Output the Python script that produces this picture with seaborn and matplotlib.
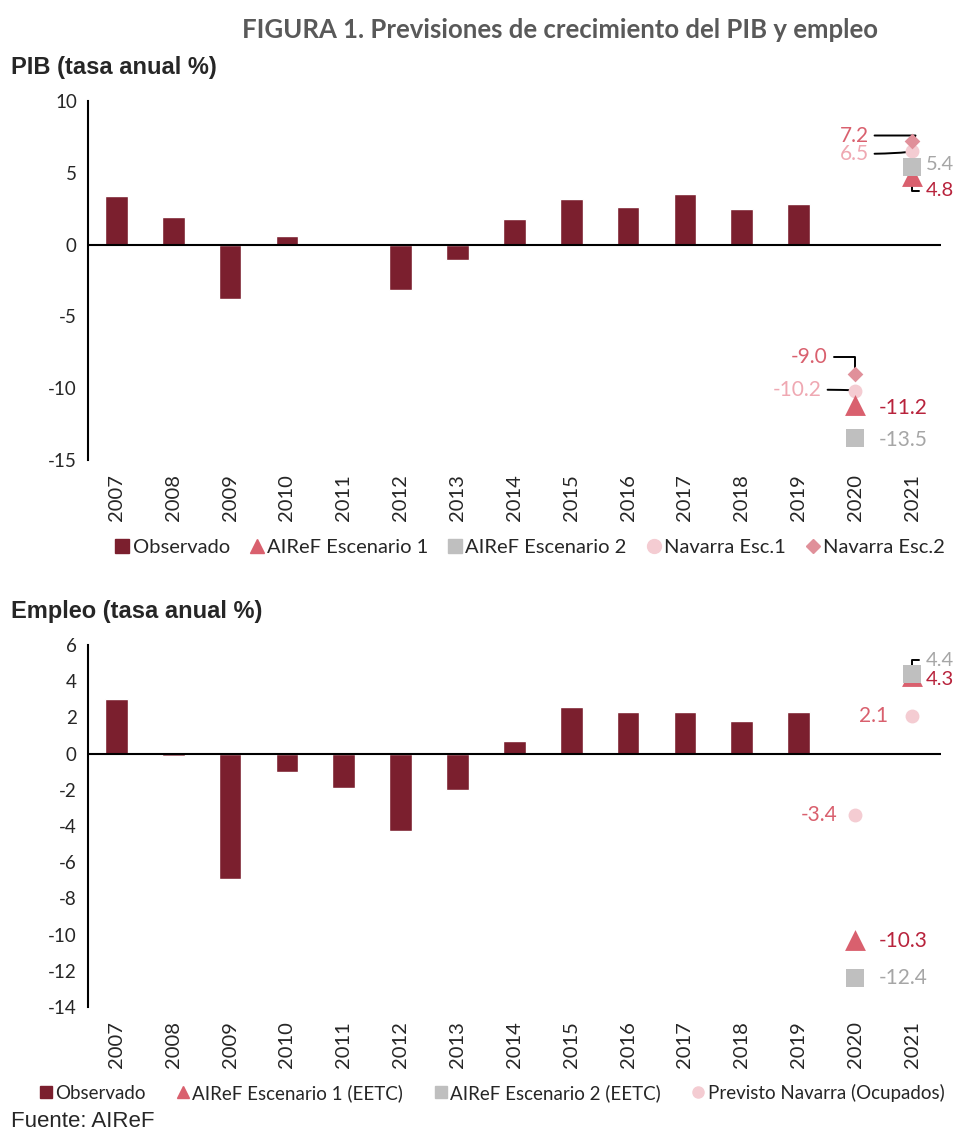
import numpy as np
import pandas as pd
import matplotlib
matplotlib.use("Agg")
import matplotlib.pyplot as plt
from matplotlib.lines import Line2D
import seaborn as sns

# ---------------- data ----------------
years = [str(y) for y in range(2007, 2022)]
obs_years = [str(y) for y in range(2007, 2020)]

pib_obs = [3.4, 1.9, -3.8, 0.6, 0.1, -3.2, -1.1, 1.8, 3.2, 2.6, 3.5, 2.5, 2.8]
emp_obs = [3.0, -0.15, -6.9, -1.0, -1.9, -4.3, -2.0, 0.7, 2.6, 2.3, 2.3, 1.8, 2.3]

fc_years = ["2020", "2021"]
pib_airef1 = [-11.2, 4.8]
pib_airef2 = [-13.5, 5.4]
pib_nav1 = [-10.2, 6.5]
pib_nav2 = [-9.0, 7.2]

emp_airef1 = [-10.3, 4.3]
emp_airef2 = [-12.4, 4.4]
emp_nav = [-3.4, 2.1]

pib_legend = ["Observado", "AIReF Escenario 1", "AIReF Escenario 2", "Navarra Esc.1", "Navarra Esc.2"]
emp_legend = ["Observado", "AIReF Escenario 1 (EETC)", "AIReF Escenario 2 (EETC)", "Previsto Navarra (Ocupados)"]

# ---------------- style ----------------
sns.set_theme(style="white")
plt.rcParams["font.family"] = ["Lato", "DejaVu Sans"]

C_OBS = "#7B1F2E"
C_A1 = "#D9606E"
C_A1_TXT = "#B8233C"
C_A2 = "#BFBFBF"
C_A2_TXT = "#A6A6A6"
C_N1 = "#F4CCD2"
C_N1_TXT = "#EFA8B2"
C_N2 = "#E0909A"
C_N2_TXT = "#D9606E"

fig = plt.figure(figsize=(9.56, 11.33), dpi=100)
ax1 = fig.add_axes([0.092, 0.594, 0.892, 0.317])
ax2 = fig.add_axes([0.092, 0.1112, 0.892, 0.3195])


def base(ax, vals, ylim, yticks):
    df = pd.DataFrame({"year": obs_years, "val": vals})
    sns.barplot(data=df, x="year", y="val", order=years, color=C_OBS,
                width=0.4, saturation=1, ax=ax, zorder=2)
    ax.axhline(0, color="black", lw=1.5, zorder=3)
    ax.set_xlim(-0.5, 14.5)
    ax.set_ylim(*ylim)
    ax.set_yticks(yticks)
    ax.set_yticklabels([str(t) for t in yticks], fontsize=13.5)
    ax.tick_params(axis="both", length=0, pad=8)
    ax.tick_params(axis="x", pad=10)
    for lab in ax.get_xticklabels():
        lab.set_rotation(90)
        lab.set_fontsize(14.5)
    for s in ["top", "right", "bottom"]:
        ax.spines[s].set_visible(False)
    ax.spines["left"].set_color("black")
    ax.spines["left"].set_linewidth(1.5)


def pts(ax, vals, marker, color, size, z):
    df = pd.DataFrame({"year": fc_years, "val": vals})
    sns.stripplot(data=df, x="year", y="val", order=years, jitter=False,
                  marker=marker, color=color, size=size, linewidth=0,
                  ax=ax, zorder=z)


def lab(ax, year, val, color, dx, dy, ha="center", line=None, fs=15):
    x = years.index(year)
    kw = {}
    if line is not None:
        kw["arrowprops"] = dict(arrowstyle="-", color="black", lw=1.4,
                                connectionstyle=line, shrinkA=2, shrinkB=4)
    ax.annotate(f"{val:.1f}", xy=(x, val), xytext=(dx, dy),
                textcoords="offset points", ha=ha, va="center",
                color=color, fontsize=fs, annotation_clip=False, **kw)


# ---------------- PIB ----------------
base(ax1, pib_obs, (-15, 10), [10, 5, 0, -5, -10, -15])
pts(ax1, pib_nav1, "o", C_N1, 10, 4)
pts(ax1, pib_nav2, "D", C_N2, 8, 5)
pts(ax1, pib_airef1, "^", C_A1, 15, 6)
pts(ax1, pib_airef2, "s", C_A2, 13, 7)

# 2020
lab(ax1, "2020", pib_nav2[0], C_N2_TXT, -33, 12, line="angle,angleA=0,angleB=90,rad=0")
lab(ax1, "2020", pib_nav1[0], C_N1_TXT, -42, 1, line="angle3,angleA=0,angleB=10")
lab(ax1, "2020", pib_airef1[0], C_A1_TXT, 17, -2, ha="left")
lab(ax1, "2020", pib_airef2[0], C_A2_TXT, 17, -1, ha="left")
# 2021
lab(ax1, "2021", pib_nav2[1], C_N2_TXT, -42, 4, line="angle,angleA=0,angleB=60,rad=0")
lab(ax1, "2021", pib_nav1[1], C_N1_TXT, -42, -2, line="angle3,angleA=0,angleB=15")
lab(ax1, "2021", pib_airef2[1], C_A2_TXT, 9.5, 2, ha="left", line="angle,angleA=0,angleB=90,rad=0", fs=14.5)
lab(ax1, "2021", pib_airef1[1], C_A1_TXT, 9.5, -11, ha="left", line="angle,angleA=0,angleB=90,rad=0", fs=14.5)

h1 = [Line2D([], [], marker="s", color=C_OBS, ls="", markersize=10),
      Line2D([], [], marker="^", color=C_A1, ls="", markersize=10),
      Line2D([], [], marker="s", color=C_A2, ls="", markersize=10),
      Line2D([], [], marker="o", color=C_N1, ls="", markersize=10),
      Line2D([], [], marker="D", color=C_N2, ls="", markersize=7)]
fig.legend(h1, pib_legend, loc="center", bbox_to_anchor=(0.553, 0.5165), ncol=5,
           frameon=False, fontsize=14.5, handletextpad=0.0, columnspacing=0.85,
           handlelength=1.0, borderaxespad=0)

# ---------------- Empleo ----------------
base(ax2, emp_obs, (-14, 6), [6, 4, 2, 0, -2, -4, -6, -8, -10, -12, -14])
pts(ax2, emp_nav, "o", C_N1, 10, 4)
pts(ax2, emp_airef1, "^", C_A1, 15, 6)
pts(ax2, emp_airef2, "s", C_A2, 13, 7)

lab(ax2, "2020", emp_nav[0], C_N2_TXT, -26, 0)
lab(ax2, "2020", emp_airef1[0], C_A1_TXT, 17, -1, ha="left")
lab(ax2, "2020", emp_airef2[0], C_A2_TXT, 17, 0, ha="left")
lab(ax2, "2021", emp_airef2[1], C_A2_TXT, 9.5, 10, ha="left", line="angle,angleA=0,angleB=90,rad=0", fs=14.5)
lab(ax2, "2021", emp_airef1[1], C_A1_TXT, 9.5, -3, ha="left", fs=14.5)
lab(ax2, "2021", emp_nav[1], C_N2_TXT, -28, 0)

h2 = [Line2D([], [], marker="s", color=C_OBS, ls="", markersize=8),
      Line2D([], [], marker="^", color=C_A1, ls="", markersize=8),
      Line2D([], [], marker="s", color=C_A2, ls="", markersize=8),
      Line2D([], [], marker="o", color=C_N1, ls="", markersize=8)]
fig.legend(h2, emp_legend, loc="center", bbox_to_anchor=(0.513, 0.0355), ncol=4,
           frameon=False, fontsize=13.5, handletextpad=0.0, columnspacing=1.5,
           handlelength=1.0, borderaxespad=0)

for ax in (ax1, ax2):
    ax.set_xlabel("")
    ax.set_ylabel("")

# ---------------- titles ----------------
fig.text(0.586, 0.9735, "FIGURA 1. Previsiones de crecimiento del PIB y empleo",
         ha="center", va="center", fontsize=18.5, fontweight="bold", color="#595959")
fig.text(0.011, 0.940, "PIB (tasa anual %)", ha="left", va="center",
         fontsize=17, fontweight="bold", family=["Liberation Sans", "DejaVu Sans"])
fig.text(0.011, 0.460, "Empleo (tasa anual %)", ha="left", va="center",
         fontsize=17, fontweight="bold", family=["Liberation Sans", "DejaVu Sans"])
fig.text(0.011, 0.010, "Fuente: AIReF", ha="left", va="center",
         fontsize=16, family=["Liberation Sans", "DejaVu Sans"])

fig.savefig("out.png", dpi=100)
